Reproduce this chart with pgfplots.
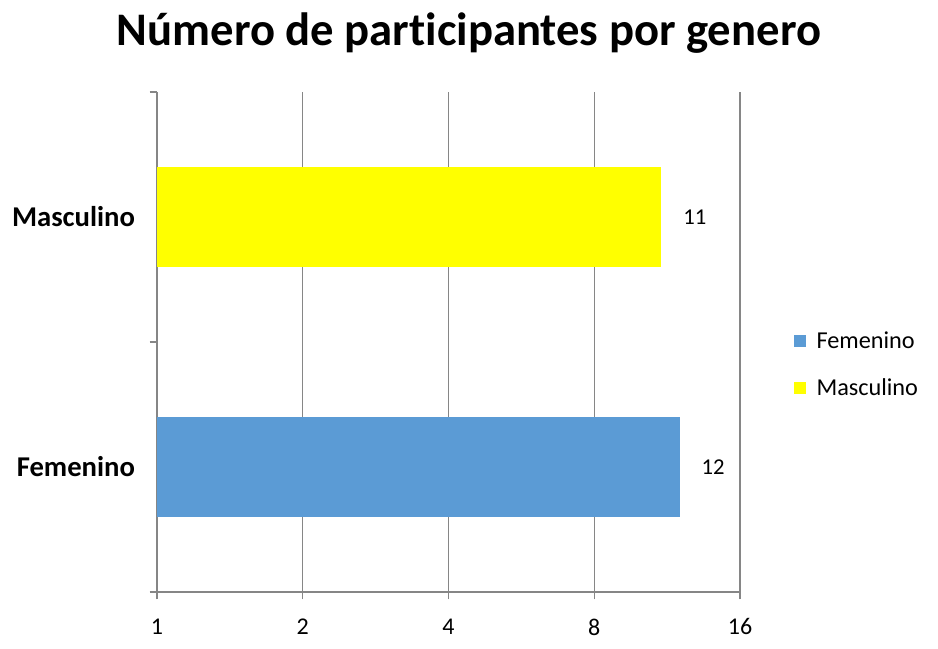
\documentclass[border=0pt]{standalone}
\usepackage{pgfplots}
\pgfplotsset{compat=1.18}
\usepackage{fontspec}
\setmainfont{Carlito}[Ligatures=NoCommon]
\definecolor{fem}{HTML}{5B9BD5}
\definecolor{mas}{HTML}{FFFF00}
\definecolor{gridc}{HTML}{868686}
\begin{document}
\begin{tikzpicture}
\begin{axis}[
  scale only axis,
  width=437.25pt, height=375pt,
  xmode=log, log basis x=2,
  xmin=1, xmax=16,
  ymin=-0.5, ymax=1.5,
  xbar, bar shift=0pt, bar width=75pt,
  axis x line=bottom, axis y line=left,
  axis line style={gridc, line width=0.9pt, -},
  xtick={1,2,4,8,16}, xticklabels={1,2,4,8,16},
  xmajorgrids, grid style={gridc, line width=0.9pt},
  every tick/.style={draw=gridc, line width=0.9pt},
  tick align=outside,
  major tick length=5.5pt,
  ytick={-0.5,0.5,1.5}, yticklabels={},
  extra y ticks={0,1}, extra y tick labels={Femenino,Masculino},
  extra y tick style={major tick length=0pt},
  ticklabel style={font=\fontsize{18}{20}\selectfont},
  yticklabel style={font=\fontsize{21.5}{24}\selectfont\bfseries, xshift=-13pt},
  xticklabel style={yshift=-11pt},
  /pgf/number format/assume math mode=true,
  point meta=explicit symbolic,
  nodes near coords,
  nodes near coords style={font=\fontsize{17}{20}\selectfont, anchor=west, xshift=13pt},
  title={Número de participantes por genero},
  title style={font=\fontsize{35}{40}\selectfont\bfseries, at={(0.535,1)}, anchor=base, yshift=29pt},
  legend style={draw=none, at={(1.085,0.455)}, anchor=west, font=\fontsize{18.2}{21}\selectfont, row sep=17pt},
  legend cell align=left,
  legend image code/.code={\path (0pt,0pt) (15pt,0pt); \fill[#1] (0pt,-4.5pt) rectangle (9pt,4.5pt);},
  clip=false,
]
\addplot[fill=fem, draw=none] coordinates {(12,0) [12]};
\addlegendentry{Femenino}
\addplot[fill=mas, draw=none] coordinates {(11,1) [11]};
\addlegendentry{Masculino}
\end{axis}
\path[use as bounding box] (-117.75pt,-42.75pt) rectangle (585.75pt,444pt);
\end{tikzpicture}
\end{document}
